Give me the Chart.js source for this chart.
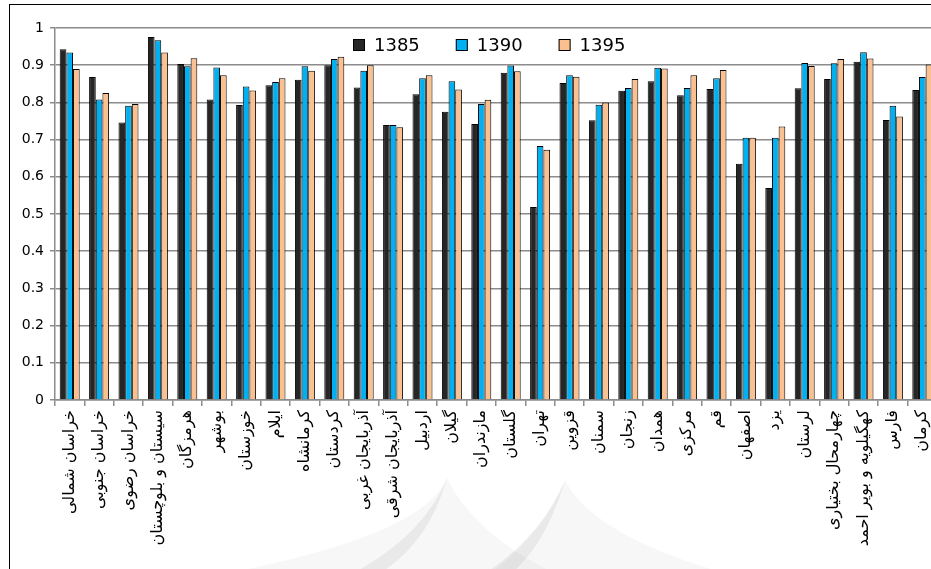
<!DOCTYPE html>
<html>
<head>
<meta charset="utf-8">
<script src="https://cdn.jsdelivr.net/npm/chart.js@4"></script>
<style>
    html, body { margin: 0; padding: 0; background: #fff; overflow: hidden; }
    #frame {
        position: absolute; left: 9px; top: 4px;
        width: 960px; height: 600px;
        border-left: 1px solid #000; border-top: 1px solid #000;
    }
    #chart { position: absolute; left: 0; top: 0; }
</style>
</head>
<body>
<div id="frame"><canvas id="chart" width="950" height="564"></canvas></div>
<script>
// provinces, left to right
const provinces = [
    'خراسان شمالی', 'خراسان جنوبی', 'خراسان رضوی', 'سیستان و بلوچستان', 'هرمزگان',
    'بوشهر', 'خوزستان', 'ایلام', 'کرمانشاه', 'کردستان',
    'آذربایجان غربی', 'آذربایجان شرقی', 'اردبیل', 'گیلان', 'مازندران',
    'گلستان', 'تهران', 'قزوین', 'سمنان', 'زنجان',
    'همدان', 'مرکزی', 'قم', 'اصفهان', 'یزد',
    'لرستان', 'چهارمحال بختیاری', 'کهگیلویه و بویر احمد', 'فارس', 'کرمان'
];

const values1385 = [
    0.943, 0.868, 0.746, 0.976, 0.903, 0.808, 0.793, 0.846, 0.861, 0.900,
    0.840, 0.739, 0.822, 0.775, 0.742, 0.880, 0.519, 0.852, 0.752, 0.831,
    0.857, 0.819, 0.836, 0.635, 0.570, 0.838, 0.863, 0.909, 0.753, 0.833
];
const values1390 = [
    0.934, 0.808, 0.791, 0.967, 0.897, 0.894, 0.843, 0.855, 0.897, 0.917,
    0.885, 0.739, 0.865, 0.857, 0.796, 0.899, 0.683, 0.873, 0.794, 0.839,
    0.893, 0.839, 0.865, 0.705, 0.705, 0.906, 0.905, 0.935, 0.791, 0.868
];
const values1395 = [
    0.890, 0.825, 0.796, 0.934, 0.919, 0.873, 0.832, 0.865, 0.885, 0.923,
    0.900, 0.733, 0.873, 0.835, 0.807, 0.884, 0.673, 0.869, 0.800, 0.863,
    0.891, 0.873, 0.887, 0.705, 0.735, 0.898, 0.917, 0.918, 0.762, 0.902
];

const seriesNames = ['1385', '1390', '1395'];
const yTickLabels = ['0', '0.1', '0.2', '0.3', '0.4', '0.5', '0.6', '0.7', '0.8', '0.9', '1'];

const gridColor = '#8c8c8c';

// legend drawn inside the plot area, like the original
const innerLegend = {
    id: 'innerLegend',
    afterDraw(chart) {
        const ctx = chart.ctx;
        const area = chart.chartArea;
        let x = area.left + 298;
        const y = area.top + 17;
        ctx.save();
        ctx.font = '18px "DejaVu Sans"';
        ctx.textBaseline = 'middle';
        ctx.textAlign = 'left';
        chart.data.datasets.forEach(ds => {
            ctx.fillStyle = ds.backgroundColor;
            ctx.fillRect(x, y - 6, 12, 12);
            ctx.strokeStyle = '#000';
            ctx.lineWidth = 1;
            ctx.strokeRect(x + 0.5, y - 5.5, 11, 11);
            ctx.fillStyle = '#000';
            ctx.fillText(ds.label, x + 21, y + 1);
            x += 21 + ctx.measureText(ds.label).width + 36;
        });
        ctx.restore();
    }
};

// faint logo watermark behind the chart
function drawArch(ctx, tipX, tipY, leftX, rightX, baseY) {
    ctx.beginPath();
    ctx.moveTo(leftX, baseY);
    ctx.quadraticCurveTo(tipX - 25, baseY - 40, tipX, tipY);
    ctx.quadraticCurveTo(tipX + 30, baseY - 40, rightX, baseY);
    ctx.closePath();
    ctx.fill();
}

function drawFlank(ctx, tipX, tipY, leftX, baseY, thick) {
    ctx.beginPath();
    ctx.moveTo(leftX, baseY);
    ctx.quadraticCurveTo(tipX - 25, baseY - 40, tipX, tipY);
    ctx.quadraticCurveTo(tipX - 20, baseY - 30, leftX + thick, baseY);
    ctx.closePath();
    ctx.fill();
}

const watermark = {
    id: 'watermark',
    beforeDraw(chart) {
        const ctx = chart.ctx;
        const baseY = 575;
        ctx.save();
        ctx.fillStyle = 'rgba(0,0,0,0.03)';
        drawArch(ctx, 437, 473, 180, 560, baseY);
        drawArch(ctx, 555, 475, 470, 740, baseY);
        ctx.fillStyle = 'rgba(0,0,0,0.06)';
        drawFlank(ctx, 437, 473, 330, baseY, 28);
        drawFlank(ctx, 555, 475, 465, baseY, 28);
        ctx.restore();
    }
};

function makeDataset(label, data, color) {
    return {
        label: label,
        data: data,
        backgroundColor: color,
        borderColor: '#000',
        borderWidth: 1,
        categoryPercentage: 0.68,
        barPercentage: 1.0
    };
}

function renderChart() {
    const ctx = document.getElementById('chart').getContext('2d');
    new Chart(ctx, {
        type: 'bar',
        data: {
            labels: provinces,
            datasets: [
                makeDataset(seriesNames[0], values1385, '#262626'),
                makeDataset(seriesNames[1], values1390, '#00b0f0'),
                makeDataset(seriesNames[2], values1395, '#fac090')
            ]
        },
        options: {
            responsive: false,
            animation: false,
            layout: { padding: { left: 0, top: 23, right: 23, bottom: 0 } },
            plugins: {
                legend: { display: false },
                tooltip: { enabled: false }
            },
            scales: {
                x: {
                    grid: {
                        drawOnChartArea: false,
                        drawTicks: true,
                        tickLength: 6,
                        color: gridColor,
                        lineWidth: 1.5
                    },
                    border: { color: gridColor, width: 1.5 },
                    ticks: {
                        autoSkip: false,
                        minRotation: 90,
                        maxRotation: 90,
                        padding: 4,
                        color: '#000',
                        font: { family: 'DejaVu Sans', size: 16 }
                    },
                    afterFit(scale) { scale.height = 169; }
                },
                y: {
                    min: 0,
                    max: 1,
                    grid: { color: gridColor, lineWidth: 1.5, tickLength: 5 },
                    border: { color: gridColor, width: 1.5 },
                    ticks: {
                        stepSize: 0.1,
                        padding: 6,
                        color: '#000',
                        font: { family: 'DejaVu Sans', size: 14 },
                        callback: value => yTickLabels[Math.round(value * 10)]
                    },
                    afterFit(scale) { scale.width = 45; }
                }
            }
        },
        plugins: [watermark, innerLegend]
    });
}

window.onload = renderChart;
</script>
</body>
</html>
